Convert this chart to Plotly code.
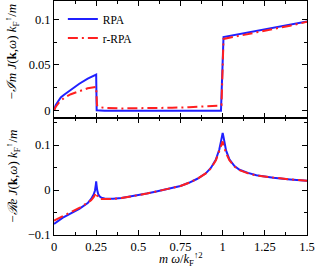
import plotly.graph_objects as go

# ---- data ----
x_im_rpa = [0, 0.005, 0.01, 0.02, 0.04, 0.06, 0.1, 0.15, 0.2, 0.25, 0.253, 0.3, 0.5, 0.75, 0.99, 1.005, 1.25, 1.5]
y_im_rpa = [0, 0.004, 0.006, 0.009, 0.0145, 0.0175, 0.023, 0.0295, 0.035, 0.0395, 0.0005, 0, 0, 0, 0, 0.0805, 0.089, 0.0975]

x_im_rr = [0, 0.01, 0.03, 0.06, 0.1, 0.15, 0.2, 0.25, 0.255, 0.27, 0.3, 0.4, 0.5, 0.6, 0.7, 0.8, 0.9, 0.95, 0.98, 0.993, 1.005, 1.1, 1.2, 1.3, 1.4, 1.5]
y_im_rr = [0, 0.004, 0.009, 0.014, 0.018, 0.0215, 0.0245, 0.026, 0.006, 0.004, 0.003, 0.0025, 0.0025, 0.0028, 0.0032, 0.0038, 0.0045, 0.005, 0.0055, 0.006, 0.0785, 0.082, 0.0855, 0.089, 0.093, 0.0972]

x_re_rpa = [0, 0.05, 0.1, 0.15, 0.2, 0.22, 0.235, 0.243, 0.248, 0.25, 0.252, 0.256, 0.262, 0.27, 0.28, 0.3,
            0.35, 0.4, 0.45, 0.5, 0.55, 0.6, 0.65, 0.7, 0.75, 0.8, 0.85, 0.9, 0.93, 0.96, 0.98, 0.99, 0.995,
            1.0, 1.005, 1.01, 1.02, 1.04, 1.07, 1.1, 1.15, 1.2, 1.3, 1.4, 1.5]
y_re_rpa = [-0.0756, -0.062, -0.052, -0.042, -0.029, -0.020, -0.010, -0.001, 0.012, 0.019, 0.012, 0.0, -0.009, -0.014, -0.017, -0.019,
            -0.0195, -0.018, -0.015, -0.012, -0.008, -0.004, 0.0, 0.004, 0.009, 0.016, 0.025, 0.037, 0.049, 0.068, 0.090, 0.108, 0.120,
            0.127, 0.118, 0.104, 0.088, 0.068, 0.053, 0.045, 0.038, 0.033, 0.027, 0.0235, 0.0205]

x_re_rr = [0, 0.05, 0.1, 0.15, 0.2, 0.22, 0.235, 0.245, 0.25, 0.255, 0.265, 0.28, 0.3, 0.35, 0.4, 0.45, 0.5, 0.55, 0.6,
           0.65, 0.7, 0.75, 0.8, 0.85, 0.9, 0.93, 0.96, 0.98, 0.99, 1.0, 1.005, 1.01, 1.02, 1.04, 1.07, 1.1, 1.15,
           1.2, 1.3, 1.4, 1.5]
y_re_rr = [-0.068, -0.058, -0.049, -0.040, -0.029, -0.023, -0.016, -0.010, -0.006, -0.012, -0.018, -0.020, -0.020, -0.020, -0.018,
           -0.015, -0.012, -0.008, -0.004, 0.0, 0.004, 0.009, 0.016, 0.025, 0.037, 0.048, 0.066, 0.085, 0.098, 0.108, 0.100, 0.093,
           0.082, 0.066, 0.052, 0.044, 0.037, 0.032, 0.027, 0.0235, 0.0205]

x_ticks = [0, 0.25, 0.5, 0.75, 1, 1.25, 1.5]
x_ticklabels = ["0", "0.25", "0.5", "0.75", "1", "1.25", "1.5"]
top_ticks = [0, 0.05, 0.1]
top_ticklabels = ["0", "0.05", "0.1"]
bot_ticks = [-0.1, 0, 0.1]
bot_ticklabels = ["\u22120.1", "0", "0.1"]

BLUE = "#2020ff"
RED = "#ff2020"
FONT = "Liberation Serif"

fig = go.Figure()
fig.add_trace(go.Scatter(x=x_im_rpa, y=y_im_rpa, mode="lines", name="RPA",
                         line=dict(color=BLUE, width=2), xaxis="x2", yaxis="y2"))
fig.add_trace(go.Scatter(x=x_im_rr, y=y_im_rr, mode="lines", name="r-RPA",
                         line=dict(color=RED, width=2, dash="10px,4px,2px,4px"), xaxis="x2", yaxis="y2"))
fig.add_trace(go.Scatter(x=x_re_rpa, y=y_re_rpa, mode="lines", showlegend=False,
                         line=dict(color=BLUE, width=2), xaxis="x", yaxis="y"))
fig.add_trace(go.Scatter(x=x_re_rr, y=y_re_rr, mode="lines", showlegend=False,
                         line=dict(color=RED, width=2, dash="10px,4px,2px,4px"), xaxis="x", yaxis="y"))

axis_common = dict(showline=True, linecolor="black", linewidth=1, mirror="allticks",
                   ticks="inside", ticklen=5, tickcolor="black", tickwidth=1,
                   showgrid=False, zeroline=False, automargin=False,
                   tickfont=dict(family=FONT, size=12.5, color="black"))

fig.update_layout(
    width=317, height=276,
    margin=dict(l=54, r=10, t=1, b=41, autoexpand=False),
    paper_bgcolor="white", plot_bgcolor="white",
    font=dict(family=FONT, size=12.5, color="black"),
    showlegend=True,
    legend=dict(x=0.035, y=0.985, xanchor="left", yanchor="top",
                bgcolor="rgba(0,0,0,0)", font=dict(family=FONT, size=11.5),
                itemwidth=30, tracegroupgap=0),
    xaxis=dict(domain=[0, 1], anchor="y", range=[0, 1.5], tickvals=x_ticks, ticktext=x_ticklabels,
               minor=dict(dtick=0.125, ticks="inside", ticklen=3, tickcolor="black"), **axis_common),
    yaxis=dict(domain=[0, 0.5], anchor="x", range=[-0.1, 0.16], tickvals=bot_ticks, ticktext=bot_ticklabels,
               minor=dict(dtick=0.05, ticks="inside", ticklen=3, tickcolor="black"), **axis_common),
    xaxis2=dict(domain=[0, 1], anchor="y2", range=[0, 1.5], tickvals=x_ticks, showticklabels=False,
                matches="x", minor=dict(dtick=0.125, ticks="inside", ticklen=3, tickcolor="black"), **axis_common),
    yaxis2=dict(domain=[0.5, 1], anchor="x2", range=[-0.008, 0.12], tickvals=top_ticks, ticktext=top_ticklabels,
                minor=dict(dtick=0.025, ticks="inside", ticklen=3, tickcolor="black"), **axis_common),
    annotations=[
        dict(text="\u2212<i>\u2110m J</i>(<b>k</b>,<i>\u03c9</i>) <i>k</i><sub>F</sub><sup>\u2191</sup>/<i>m</i>",
             xref="paper", yref="paper", x=-0.165, y=0.785, xanchor="center", yanchor="middle",
             textangle=-90, showarrow=False, font=dict(family=FONT, size=13)),
        dict(text="\u2212<i>\u211be J</i>(<b>k</b>,<i>\u03c9</i>) <i>k</i><sub>F</sub><sup>\u2191</sup>/<i>m</i>",
             xref="paper", yref="paper", x=-0.165, y=0.25, xanchor="center", yanchor="middle",
             textangle=-90, showarrow=False, font=dict(family=FONT, size=13)),
        dict(text="<i>m \u03c9</i>/<i>k</i><sub>F</sub><sup>\u21912</sup>",
             xref="paper", yref="paper", x=0.5, y=-0.103, xanchor="center", yanchor="middle",
             showarrow=False, font=dict(family=FONT, size=12.5)),
    ],
)

fig.write_html("out.html", config={"displayModeBar": False},
               post_script="document.body.style.margin='0px';document.body.style.overflow='hidden';")
